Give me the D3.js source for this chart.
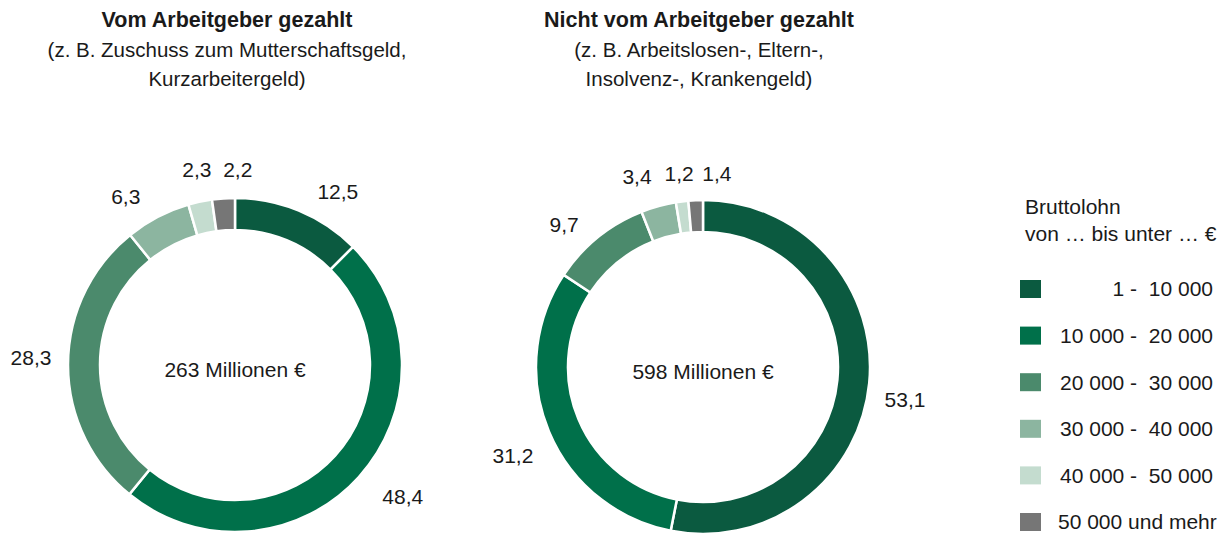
<!DOCTYPE html>
<html lang="de">
<head>
<meta charset="utf-8">
<title>Bruttolohn – Anteile</title>
<script src="https://d3js.org/d3.v7.min.js"></script>
<style>
  body { margin: 0; background: #fff; }
  svg text { font-family: "Liberation Sans", Arial, sans-serif; fill: #1a1a1a; }
  .title { font-weight: bold; font-size: 21.5px; }
  .sub { font-size: 20.5px; }
  .lbl { font-size: 21px; }
  .legend text { font-size: 21px; white-space: pre; }
</style>
</head>
<body>
<script>
// Data
const categories = ["1 -  10 000", "10 000 -  20 000", "20 000 -  30 000", "30 000 -  40 000", "40 000 -  50 000", "50 000 und mehr"];
const paidByEmployer = [12.5, 48.4, 28.3, 6.3, 2.3, 2.2];
const notPaidByEmployer = [53.1, 31.2, 9.7, 3.4, 1.2, 1.4];
const totals = ["263 Millionen €", "598 Millionen €"];
const titles = ["Vom Arbeitgeber gezahlt", "Nicht vom Arbeitgeber gezahlt"];
const subtitles = [
  ["(z. B. Zuschuss zum Mutterschaftsgeld,", "Kurzarbeitergeld)"],
  ["(z. B. Arbeitslosen-, Eltern-,", "Insolvenz-, Krankengeld)"]
];
const colors = ["#0b5a40", "#00704a", "#4b8a6c", "#8cb5a0", "#c4dccf", "#767676"];

const w = 1231, h = 533;
const outerR = 167, innerR = 135;
const labelRx = 206, labelRy = 192;   // labels sit on an ellipse round the ring

// small hand tweaks so the value labels sit like in the original layout
const labelNudge = [
  [[24, 4], [15, 3], [2, -7], [-14, 2], [5, -8], [17, -4]],
  [[-3, 14], [0, 15], [-9, 7], [-11, -5], [2, -3], [23, -2]]
];

const svg = d3.select("body").append("svg")
  .attr("width", w).attr("height", h);

const color = d3.scaleOrdinal().domain(categories).range(colors);
const pie = d3.pie().sort(null).value(d => d.v);
const arc = d3.arc().innerRadius(innerR).outerRadius(outerR);
const fmt = v => d3.format(".1f")(v).replace(".", ",");

const donuts = [
  { values: paidByEmployer, cx: 235, cy: 365, tx: 227 },
  { values: notPaidByEmployer, cx: 703, cy: 367, tx: 699 }
];

donuts.forEach((dn, k) => {
  //titles
  svg.append("text").attr("x", dn.tx).attr("y", 27)
    .attr("class", "title").attr("text-anchor", "middle").text(titles[k]);
  subtitles[k].forEach((s, i) => {
    svg.append("text").attr("x", dn.tx).attr("y", 57 + i * 29)
      .attr("class", "sub").attr("text-anchor", "middle").text(s);
  });

  const g = svg.append("g").attr("transform", `translate(${dn.cx},${dn.cy})`);
  const arcs = pie(dn.values.map((v, i) => ({ v, c: categories[i] })));

  g.selectAll("path").data(arcs).join("path")
    .attr("d", arc)
    .attr("fill", d => color(d.data.c))
    .attr("stroke", "#fff")
    .attr("stroke-width", 2.5);

  g.append("text").attr("class", "lbl").attr("text-anchor", "middle")
    .attr("y", 5).attr("dy", "0.35em").text(totals[k]);

  //value labels
  const pos = arcs.map((d, i) => {
    const a = (d.startAngle + d.endAngle) / 2;
    return {
      x: labelRx * Math.sin(a) + labelNudge[k][i][0],
      y: -labelRy * Math.cos(a) + labelNudge[k][i][1],
      d
    };
  });
  g.selectAll("text.val").data(pos).join("text")
    .attr("class", "lbl val").attr("text-anchor", "middle")
    .attr("x", p => p.x).attr("y", p => p.y).attr("dy", "0.35em")
    .text(p => fmt(p.d.value));
});

//legend
const lg = svg.append("g").attr("class", "legend");
lg.append("text").attr("x", 1025).attr("y", 214).text("Bruttolohn");
lg.append("text").attr("x", 1025).attr("y", 241).text("von … bis unter … €");

const rowY = d3.scalePoint().domain(categories).range([289, 522]);
categories.forEach((c, i) => {
  lg.append("rect").attr("x", 1020).attr("y", rowY(c) - 9)
    .attr("width", 21).attr("height", 18).attr("fill", color(c));
  const last = i === categories.length - 1;
  lg.append("text")
    .attr("x", last ? 1058 : 1213)
    .attr("text-anchor", last ? "start" : "end")
    .attr("y", rowY(c)).attr("dy", "0.35em")
    .text(c);
});
</script>
</body>
</html>
